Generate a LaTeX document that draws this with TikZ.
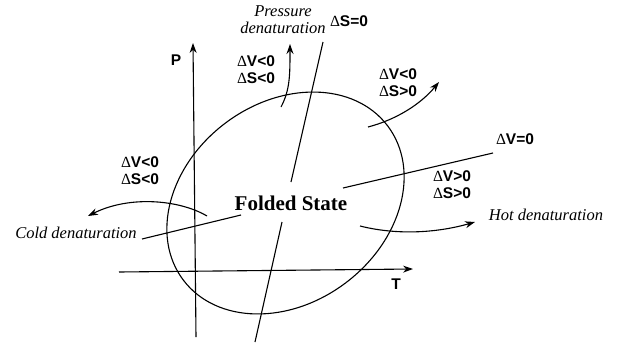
\documentclass[tikz,border=0pt]{standalone}
\usepackage{fontspec}
\setmainfont{Liberation Serif}
\setsansfont{Liberation Sans}
\usetikzlibrary{arrows.meta}
\newcommand\mydelta{{\rmfamily\mdseries Δ}}
\begin{document}
\begin{tikzpicture}[x=1pt,y=-1pt,
  ln/.style={line width=1.1pt},
  arr/.style={line width=1.1pt,-{Stealth[length=10pt,width=7pt]}},
  lab/.style={font=\sffamily\bfseries\fontsize{15.5}{17}\selectfont,align=left,inner sep=0pt},
  itl/.style={font=\itshape\fontsize{16.5}{17}\selectfont,align=center,inner sep=0pt}]
\useasboundingbox (0,0) rectangle (618,343);
% axes
\coordinate (pb) at (196,337); \coordinate (pt) at (193,43);
\coordinate (tl) at (119,272); \coordinate (tr) at (413,269);
\draw[arr] (pb) -- (pt);
\draw[arr] (tl) -- (tr);
\node[lab] (P) at (176,60) {P};
\node[lab] (T) at (396,284) {T};
% ellipse
\draw[ln] (285.5,203) ellipse[x radius=128,y radius=100,rotate=37];
% Delta S = 0 line
\coordinate (s1) at (323,42); \coordinate (s2) at (291,182);
\coordinate (s3) at (282,222); \coordinate (s4) at (255,342);
\draw[ln] (s1) -- (s2);
\draw[ln] (s3) -- (s4);
% Delta V = 0 line
\coordinate (v1) at (142,239); \coordinate (v2) at (241,215);
\coordinate (v3) at (343,188); \coordinate (v4) at (493,153);
\draw[ln] (v1) -- (v2);
\draw[ln] (v3) -- (v4);
% labels
\node[font=\bfseries\fontsize{21}{24}\selectfont,inner sep=0pt] (fs) at (291,203) {Folded State};
\node[itl] (pd) at (283,20) {Pressure\\denaturation};
\node[lab] (s0) at (349,21) {\mydelta S=0};
\node[lab] (v0) at (515,139) {\mydelta V=0};
\node[lab] (q1) at (256,70) {\mydelta V<0\\\mydelta S<0};
\node[lab] (q2) at (398,83) {\mydelta V<0\\\mydelta S>0};
\node[lab] (q3) at (452,185) {\mydelta V>0\\\mydelta S>0};
\node[lab] (q4) at (140,171) {\mydelta V<0\\\mydelta S<0};
\node[itl] (cd) at (76,233) {Cold denaturation};
\node[itl] (hd) at (546,215) {Hot denaturation};
% denaturation arrows
\coordinate (ca) at (207,216); \coordinate (cb) at (88,216);
\draw[arr] (ca) .. controls (180,200) and (130,195) .. (cb);
\coordinate (ha) at (360,226); \coordinate (hb) at (475,222);
\draw[arr] (ha) .. controls (400,236) and (440,232) .. (hb);
\coordinate (pa) at (281,107); \coordinate (pz) at (290,44);
\draw[arr] (pa) .. controls (290,90) and (290,75) .. (pz);
\coordinate (ra) at (368,127); \coordinate (rz) at (439,82);
\draw[arr] (ra) .. controls (395,120) and (420,105) .. (rz);
\end{tikzpicture}
\end{document}
